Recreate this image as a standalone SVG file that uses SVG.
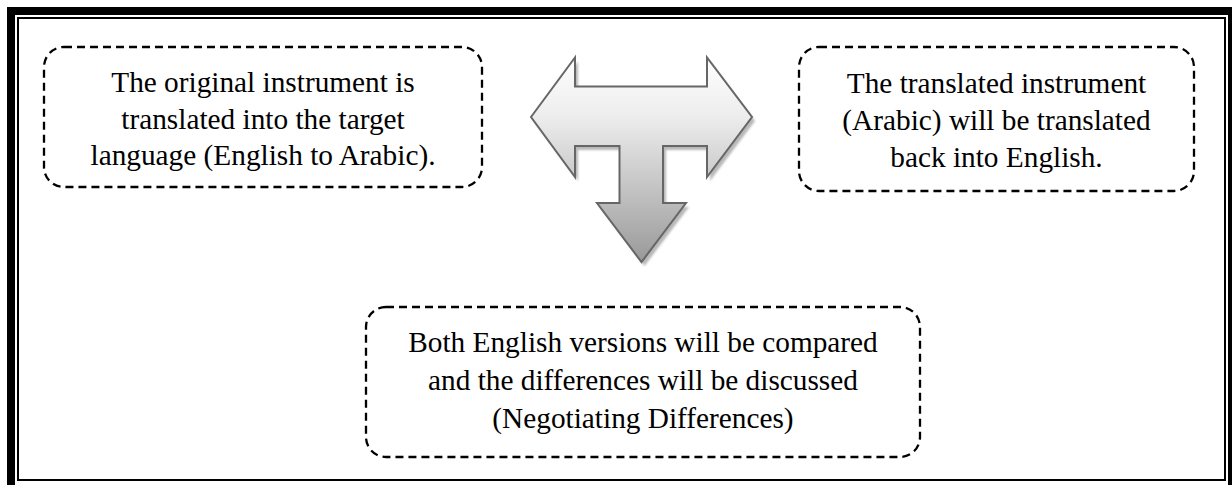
<svg xmlns="http://www.w3.org/2000/svg" width="1232" height="485" viewBox="0 0 1232 485">
<style>
.box{fill:#fff;stroke:#000;stroke-width:2.3;stroke-dasharray:8 5}
.t{font-family:"Liberation Serif","Times New Roman",serif;font-size:29.3px;fill:#000;text-anchor:middle}
</style>
<defs>
<linearGradient id="g" x1="0" y1="57" x2="0" y2="262" gradientUnits="userSpaceOnUse">
<stop offset="0" stop-color="#ffffff"/>
<stop offset="0.3" stop-color="#ececec"/>
<stop offset="1" stop-color="#999999"/>
</linearGradient>
<filter id="blur" x="-10%" y="-10%" width="120%" height="120%"><feGaussianBlur stdDeviation="1"/></filter>
</defs>
<rect x="0" y="0" width="1232" height="485" fill="#fff"/>
<g id="frame" fill="none" stroke="#000">
<rect x="11" y="11" width="1221" height="479" stroke-width="8"/>
<rect x="18" y="18" width="1207" height="462" stroke-width="2"/>
</g>
<g id="connectors">
<path d="M531,117 L575,57.5 L575,86.5 L707,86.5 L707,57.5 L752,117 L707,177 L707,146 L663,146 L663,203 L686,203 L641.5,262 L597,203 L619.5,203 L619.5,146 L575,146 L575,177 Z" transform="translate(3,4)" fill="#b8b8b8" filter="url(#blur)"/>
<path d="M531,117 L575,57.5 L575,86.5 L707,86.5 L707,57.5 L752,117 L707,177 L707,146 L663,146 L663,203 L686,203 L641.5,262 L597,203 L619.5,203 L619.5,146 L575,146 L575,177 Z" fill="url(#g)" stroke="#666" stroke-width="2" stroke-linejoin="miter"/>
</g>
<g id="node1">
<rect class="box" x="44" y="47" width="438" height="140" rx="20" ry="20"/>
<text class="t" x="263" y="92">The original instrument is</text>
<text class="t" x="263" y="128.5">translated into the target</text>
<text class="t" x="263" y="165">language (English to Arabic).</text>
</g>
<g id="node2">
<rect class="box" x="799" y="47" width="395" height="144" rx="20" ry="20"/>
<text class="t" x="996.5" y="93">The translated instrument</text>
<text class="t" x="996.5" y="130">(Arabic) will be translated</text>
<text class="t" x="996.5" y="167">back into English.</text>
</g>
<g id="node3">
<rect class="box" x="366" y="307" width="554" height="150" rx="20" ry="20"/>
<text class="t" x="643" y="352">Both English versions will be compared</text>
<text class="t" x="643" y="390">and the differences will be discussed</text>
<text class="t" x="643" y="428">(Negotiating Differences)</text>
</g>
</svg>
